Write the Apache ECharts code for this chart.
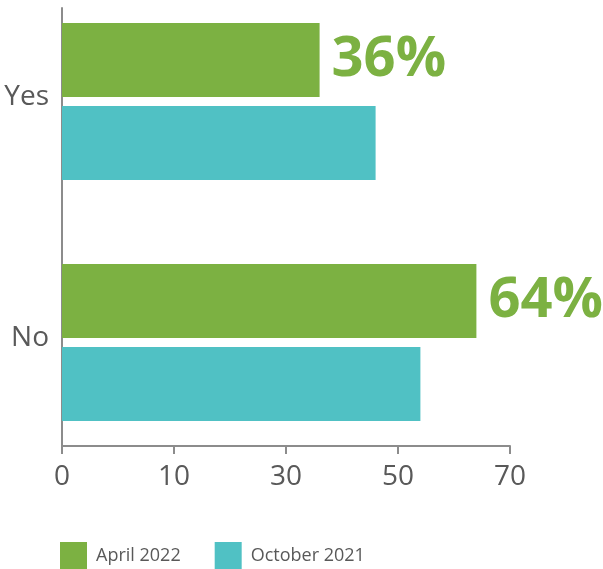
<!DOCTYPE html>
<html>
<head>
<meta charset="utf-8">
<script src="https://cdn.jsdelivr.net/npm/echarts@6/dist/echarts.min.js"></script>
<style>
  html, body { margin: 0; padding: 0; background: #fff; }
  #chart { width: 603px; height: 569px; }
</style>
</head>
<body>
<div id="chart"></div>
<script>
const categories = ['Yes', 'No'];
const april2022 = [36, 64];
const october2021 = [46, 54];
const tickValues = [0, 10, 30, 50, 70];

const GREEN = '#7CB142';
const TEAL = '#50C1C4';
const TEXT = '#595959';
const AXIS = '#8C8C8C';
const FONT = '"Open Sans", "Noto Sans", sans-serif';

// The value axis is piecewise: its ticks are evenly spaced, so each value is
// placed proportionally between the two ticks that surround it.
function toTickScale(v) {
  const last = tickValues.length - 2;
  for (let i = 0; i <= last; i++) {
    const a = tickValues[i], b = tickValues[i + 1];
    if (v <= b || i === last) return i + (v - a) / (b - a);
  }
  return 0;
}

const asItems = values => values.map(v => ({ value: toTickScale(v), raw: v }));

const chart = echarts.init(document.getElementById('chart'), null, { renderer: 'canvas' });

chart.setOption({
  animation: false,
  textStyle: { fontFamily: FONT },
  legend: {
    left: 60,
    top: 542,
    padding: 0,
    icon: 'rect',
    itemWidth: 27,
    itemHeight: 27,
    itemGap: 34,
    selectedMode: false,
    textStyle: { fontSize: 18, color: TEXT, fontFamily: FONT, padding: [0, 0, 0, 4] },
    data: ['April 2022', 'October 2021']
  },
  grid: [
    // bars
    { left: 62, right: 93, top: -19, height: 482, outerBoundsMode: 'none' },
    // visible axis frame
    { left: 62, right: 93, top: 8, bottom: 123, outerBoundsMode: 'none' }
  ],
  xAxis: [
    {
      gridIndex: 0, type: 'value', min: 0, max: tickValues.length - 1, interval: 1,
      show: false
    },
    {
      gridIndex: 1, type: 'value', min: 0, max: tickValues.length - 1, interval: 1,
      axisLine: { show: true, onZero: false, lineStyle: { color: AXIS, width: 2 } },
      axisTick: { show: true, length: 8, lineStyle: { color: AXIS, width: 2 } },
      splitLine: { show: false },
      axisLabel: {
        formatter: v => String(tickValues[Math.round(v)]),
        fontSize: 28, color: TEXT, fontFamily: FONT, margin: 17
      }
    }
  ],
  yAxis: [
    {
      gridIndex: 0, type: 'category', inverse: true, data: categories,
      axisLine: { show: false },
      axisTick: { show: false },
      axisLabel: {
        fontSize: 28, color: TEXT, fontFamily: FONT, margin: 13,
        verticalAlign: 'bottom', lineHeight: 9
      }
    },
    {
      gridIndex: 1, type: 'value', min: 0, max: 1,
      axisLine: { show: true, onZero: false, lineStyle: { color: AXIS, width: 2 } },
      axisTick: { show: false },
      axisLabel: { show: false },
      splitLine: { show: false }
    }
  ],
  series: [
    {
      name: 'April 2022',
      type: 'bar',
      xAxisIndex: 0, yAxisIndex: 0,
      barWidth: 74,
      barGap: '12%',
      itemStyle: { color: GREEN },
      label: {
        show: true,
        position: 'right',
        distance: 12,
        formatter: p => p.data.raw + '%',
        fontSize: 56,
        fontWeight: 'bold',
        fontFamily: FONT,
        color: GREEN,
        padding: [4, 0, 0, 0]
      },
      data: asItems(april2022)
    },
    {
      name: 'October 2021',
      type: 'bar',
      xAxisIndex: 0, yAxisIndex: 0,
      barWidth: 74,
      barGap: '12%',
      itemStyle: { color: TEAL },
      data: asItems(october2021)
    }
  ]
});
</script>
</body>
</html>
